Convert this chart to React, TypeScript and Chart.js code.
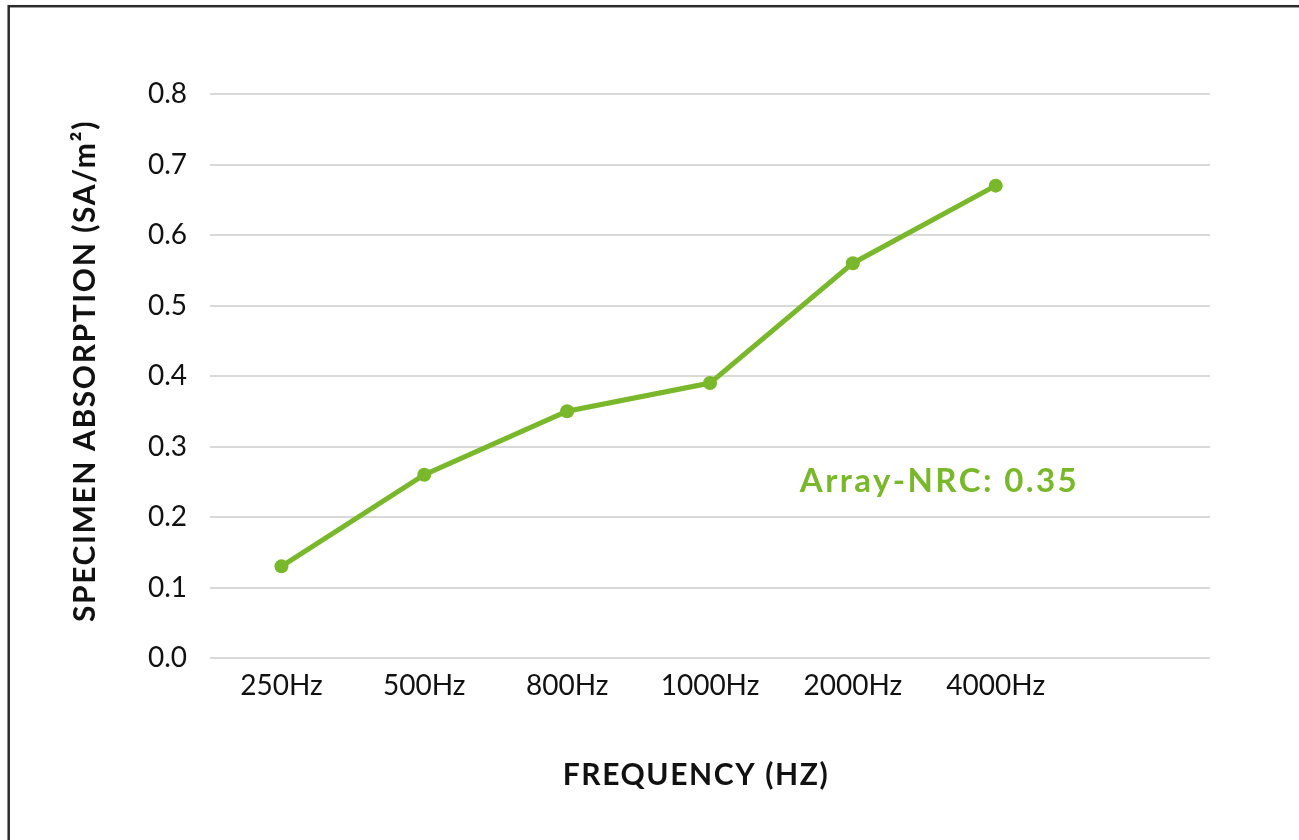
import React, { useEffect, useRef } from "react";
import { Chart, registerables } from "chart.js";

Chart.register(...registerables);

const categories = ["250Hz", "500Hz", "800Hz", "1000Hz", "2000Hz", "4000Hz", ""];
const absorption = [0.13, 0.26, 0.35, 0.39, 0.56, 0.67, null];
const yTicks = [0, 0.1, 0.2, 0.3, 0.4, 0.5, 0.6, 0.7, 0.8];
const nrcLabel = "Array-NRC: 0.35";
const xTitle = "FREQUENCY (HZ)";
const yTitle = "SPECIMEN ABSORPTION (SA/m²)";

const GREEN = "#79b82a";
const FONT = "Lato, 'Open Sans', sans-serif";

const framePlugin = {
  id: "frame",
  beforeDraw(chart: any) {
    const ctx = chart.ctx;
    ctx.save();
    ctx.fillStyle = "#ffffff";
    ctx.fillRect(0, 0, chart.width, chart.height);
    ctx.strokeStyle = "#2b2b2b";
    ctx.lineWidth = 2.5;
    ctx.strokeRect(8.7, 6.2, chart.width + 20, chart.height + 20);
    ctx.restore();
  },
};

const textPlugin = {
  id: "texts",
  afterDraw(chart: any) {
    const { ctx, scales, chartArea } = chart;
    ctx.save();
    // Axis titles
    ctx.fillStyle = "#111";
    ctx.font = `bold 30px ${FONT}`;
    (ctx as any).letterSpacing = "1.6px";
    ctx.textAlign = "center";
    ctx.textBaseline = "middle";
    const cx = (chartArea.left + chartArea.right) / 2 - 14;
    ctx.fillText(xTitle, cx, chartArea.bottom + 117);
    ctx.save();
    ctx.translate(chartArea.left - 125, (chartArea.top + chartArea.bottom) / 2 - 5);
    ctx.rotate(-Math.PI / 2);
    ctx.fillText(yTitle, 0, 0);
    ctx.restore();
    // NRC annotation
    const x = scales.x.getPixelForValue(4) - 53;
    const y = scales.y.getPixelForValue(0.25);
    ctx.font = `bold 33px ${FONT}`;
    (ctx as any).letterSpacing = "2.4px";
    ctx.fillStyle = GREEN;
    ctx.textAlign = "left";
    ctx.fillText(nrcLabel, x, y);
    ctx.restore();
  },
};

export default function App() {
  const ref = useRef<HTMLCanvasElement>(null);

  useEffect(() => {
    if (!ref.current) return;
    const chart = new Chart(ref.current, {
      type: "line",
      data: {
        labels: categories,
        datasets: [
          {
            data: absorption as any,
            borderColor: GREEN,
            backgroundColor: GREEN,
            borderWidth: 5,
            pointRadius: 7,
            pointBackgroundColor: GREEN,
            pointBorderColor: GREEN,
            pointBorderWidth: 0,
            tension: 0,
          },
        ],
      },
      options: {
        animation: false,
        responsive: false,
        devicePixelRatio: 1,
        layout: { padding: { left: 69, top: 94, right: 89, bottom: 49 } },
        plugins: { legend: { display: false }, tooltip: { enabled: false } },
        scales: {
          x: {
            offset: true,
            grid: { display: false, drawTicks: false },
            border: { display: false },
            ticks: {
              color: "#111",
              font: { family: FONT, size: 28 },
              padding: 11,
              maxRotation: 0,
              autoSkip: false,
            },
            afterFit(scale: any) {
              scale.height = 133;
            },
          },
          y: {
            min: 0,
            max: 0.8,
            afterBuildTicks(scale: any) {
              scale.ticks = yTicks.map((v) => ({ value: v }));
            },
            grid: { color: "#d9d9d9", lineWidth: 2, drawTicks: false },
            border: { display: false },
            ticks: {
              color: "#111",
              font: { family: FONT, size: 28 },
              padding: 23,
              callback: (v: any) => Number(v).toFixed(1),
            },
            afterFit(scale: any) {
              scale.width = 141;
            },
          },
        },
      },
      plugins: [framePlugin, textPlugin],
    });
    return () => chart.destroy();
  }, []);

  return (
    <div style={{ position: "absolute", left: 0, top: 0, width: 1299, height: 840, overflow: "hidden" }}>
      <canvas ref={ref} width={1299} height={840} style={{ display: "block" }} />
    </div>
  );
}
